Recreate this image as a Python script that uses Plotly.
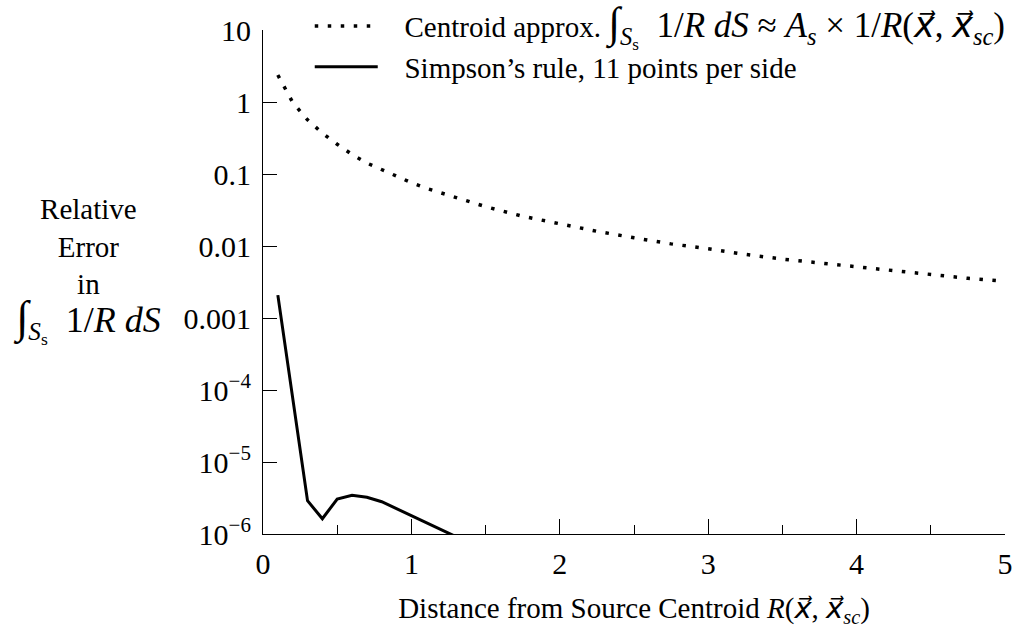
import plotly.graph_objects as go

# Relative error of the centroid approximation vs. distance
R_centroid = [0.1, 0.2, 0.3, 0.4, 0.5, 0.6, 0.7, 0.8, 0.9, 1.0, 1.1, 1.2, 1.3,
              1.5, 1.75, 2.0, 2.25, 2.5, 2.75, 3.0, 3.25, 3.5, 3.75, 4.0,
              4.25, 4.5, 4.75, 5.0]
err_centroid = [2.37, 0.987, 0.566, 0.370, 0.259, 0.187, 0.142, 0.1155, 0.092,
                0.0757, 0.0633, 0.0546, 0.0467, 0.0352, 0.0259, 0.0203, 0.0160,
                0.0130, 0.0107, 0.00914, 0.00764, 0.00658, 0.00581, 0.00514,
                0.00455, 0.00407, 0.00356, 0.00323]

# Relative error of Simpson's rule (11 points per side)
R_simpson = [0.1, 0.3, 0.4, 0.5, 0.6, 0.7, 0.8, 0.9, 1.0, 1.1, 1.2, 1.3]
err_simpson = [0.00208, 2.90e-6, 1.63e-6, 3.06e-6, 3.45e-6, 3.24e-6, 2.81e-6,
               2.25e-6, 1.80e-6, 1.44e-6, 1.15e-6, 0.92e-6]

y_tickvals = [10, 1, 0.1, 0.01, 0.001, 1e-4, 1e-5, 1e-6]
y_ticktext = ["10", "1", "0.1", "0.01", "0.001",
              "10<sup>\u22124</sup>", "10<sup>\u22125</sup>", "10<sup>\u22126</sup>"]
x_tickvals = [0, 1, 2, 3, 4, 5]

FONT = "Liberation Serif"


def vec(sym):
    # symbol with a right arrow above it
    return ("<span style='font-family:DejaVu Sans'><i>" + sym + "\u20d7</i></span>")


def integral(size):
    # surface integral of 1/R, set slightly larger than the body text
    return ("<span style='font-size:%dpx'>\u222b</span>" % int(size * 1.25) +
            "<span style='font-size:%dpx'><sub><i>S</i><sub>s</sub></sub>\u2002"
            "1/<i>R</i> <i>dS</i></span>" % size)


name_centroid = ("\u2002\u2005Centroid approx. " + integral(35) +
                 "<span style='font-size:35px'>\u2005\u2248\u2005<i>A<sub>s</sub></i>"
                 "\u2005\u00d7\u2005" "1/<i>R</i>(" + vec("x") + ",\u2005"
                 + vec("x") + "<sub><i>sc</i></sub>)</span>")
name_simpson = "\u2002\u2005Simpson\u2019s rule, 11 points per side"

fig = go.Figure()
fig.add_trace(go.Scatter(
    x=R_centroid, y=err_centroid, mode="lines", name=name_centroid,
    legendgroup="a",
    line=dict(color="black", width=3.5, dash="3.5px,9.5px"),
))
fig.add_trace(go.Scatter(
    x=R_simpson, y=err_simpson, mode="lines", name=name_simpson,
    legendgroup="b",
    line=dict(color="black", width=3),
))

fig.update_layout(
    width=1016, height=628,
    margin=dict(l=263, r=11, t=30, b=94, autoexpand=False),
    paper_bgcolor="white", plot_bgcolor="white",
    font=dict(family=FONT, size=28, color="black"),
    showlegend=True,
    legend=dict(
        x=0.063, y=1.058, xanchor="left", yanchor="top",
        bgcolor="rgba(0,0,0,0)", borderwidth=0,
        font=dict(family=FONT, size=29), itemwidth=63,
        traceorder="grouped", tracegroupgap=0,
    ),
    xaxis=dict(
        range=[0, 5], showgrid=False, zeroline=False,
        showline=True, linecolor="black", linewidth=1.2,
        tickmode="array", tickvals=x_tickvals,
        ticks="inside", ticklen=15, tickwidth=1, tickcolor="black",
        minor=dict(ticks="inside", ticklen=9, dtick=0.5, tickwidth=1,
                   tickcolor="black", showgrid=False),
        tickfont=dict(family=FONT, size=30), ticklabelstandoff=3,
        title=dict(text="Distance from Source Centroid <i>R</i>(" + vec("x") + ", "
                   + vec("x") + "<sub><i>sc</i></sub>)",
                   font=dict(family=FONT, size=29), standoff=18),
    ),
    yaxis=dict(
        type="log", range=[-6, 1], showgrid=False, zeroline=False,
        showline=True, linecolor="black", linewidth=1.2,
        tickmode="array", tickvals=y_tickvals, ticktext=y_ticktext,
        ticks="inside", ticklen=14, tickwidth=1, tickcolor="black",
        tickfont=dict(family=FONT, size=30), ticklabelstandoff=5,
    ),
    annotations=[dict(
        xref="paper", yref="paper", x=-0.237, y=0.522,
        xanchor="center", yanchor="middle", showarrow=False, align="center",
        text="Relative<br>Error<br>in<br>" + integral(36),
        font=dict(family=FONT, size=29),
    )],
)

fig.write_html("out.html")
